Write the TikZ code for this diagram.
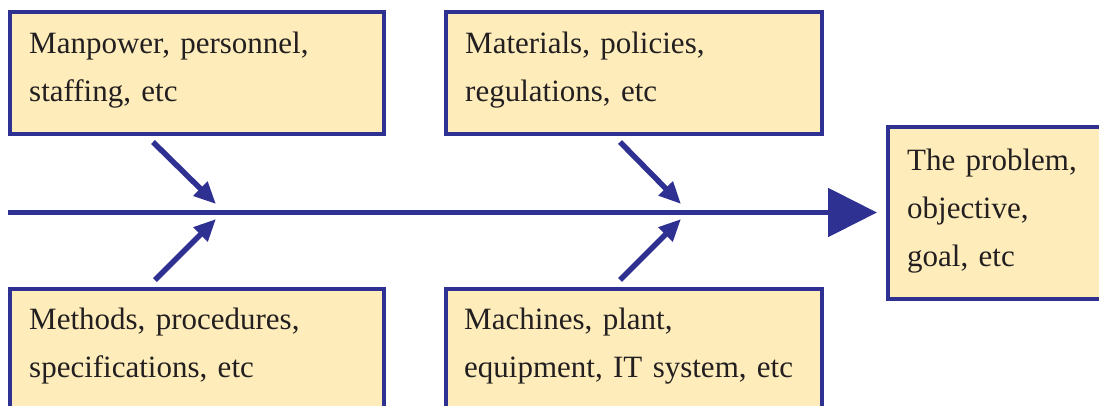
\documentclass[tikz,border=0pt]{standalone}
\usepackage{fontspec}
\setmainfont{Liberation Serif}
\usetikzlibrary{arrows.meta}
\definecolor{fishblue}{HTML}{2E3192}
\definecolor{cardfill}{HTML}{FEEDBB}
\definecolor{inktext}{HTML}{231F20}
\tikzset{
  card/.style={draw=fishblue, fill=cardfill, line width=4pt, rectangle,
    anchor=north west, inner sep=0pt, outer sep=0pt},
  caption/.style={anchor=base west, inner sep=0pt, text width=420pt,
    align=left, text=inktext, font=\fontsize{31}{48}\selectfont},
  spine/.style={draw=fishblue, line width=5.5pt,
    -{Triangle[length=49pt,width=48pt]}},
  bone/.style={draw=fishblue, line width=5.5pt,
    -{Triangle[length=22pt,width=19pt]}},
}
\begin{document}
\begin{tikzpicture}[x=1pt,y=-1pt]
  \useasboundingbox (0,0) rectangle (1099,405);
  \clip (0,0) rectangle (1099,405);

  % cause boxes above the spine
  \node[card, minimum width=374pt, minimum height=122pt] (man) at (9.5,12) {};
  \node[caption] (mantext) at (29,53) {Manpower, personnel,\\staffing, etc};
  \node[card, minimum width=376pt, minimum height=122pt] (mat) at (446,12) {};
  \node[caption] (mattext) at (465,53) {Materials, policies,\\regulations, etc};

  % cause boxes below the spine
  \node[card, minimum width=374pt, minimum height=130pt] (meth) at (9.5,289) {};
  \node[caption] (methtext) at (29,329) {Methods, procedures,\\specifications, etc};
  \node[card, minimum width=376pt, minimum height=130pt] (mach) at (446,289) {};
  \node[caption] (machtext) at (464,329) {Machines, plant,\\equipment, IT system, etc};

  % effect box
  \node[card, minimum width=230pt, minimum height=172pt] (goal) at (888,127) {};
  \node[caption] (goaltext) at (907,170) {The problem,\\objective,\\goal, etc};

  % spine and its joints
  \coordinate (tail) at (8,212.5);
  \coordinate (jointA) at (216,212.5);
  \coordinate (jointB) at (681,212.5);
  \draw[spine] (tail) -- ([xshift=-11pt]goal.west |- tail);

  % bones feeding the spine
  \draw[bone] ([xshift=143.5pt,yshift=-8pt]man.south west) -- ([yshift=8.5pt]jointA);
  \draw[bone] ([xshift=145.5pt,yshift=9pt]meth.north west) -- ([yshift=-6.5pt]jointA);
  \draw[bone] ([xshift=174pt,yshift=-8pt]mat.south west) -- ([yshift=8.5pt]jointB);
  \draw[bone] ([xshift=174pt,yshift=9pt]mach.north west) -- ([yshift=-6.5pt]jointB);
\end{tikzpicture}
\end{document}
